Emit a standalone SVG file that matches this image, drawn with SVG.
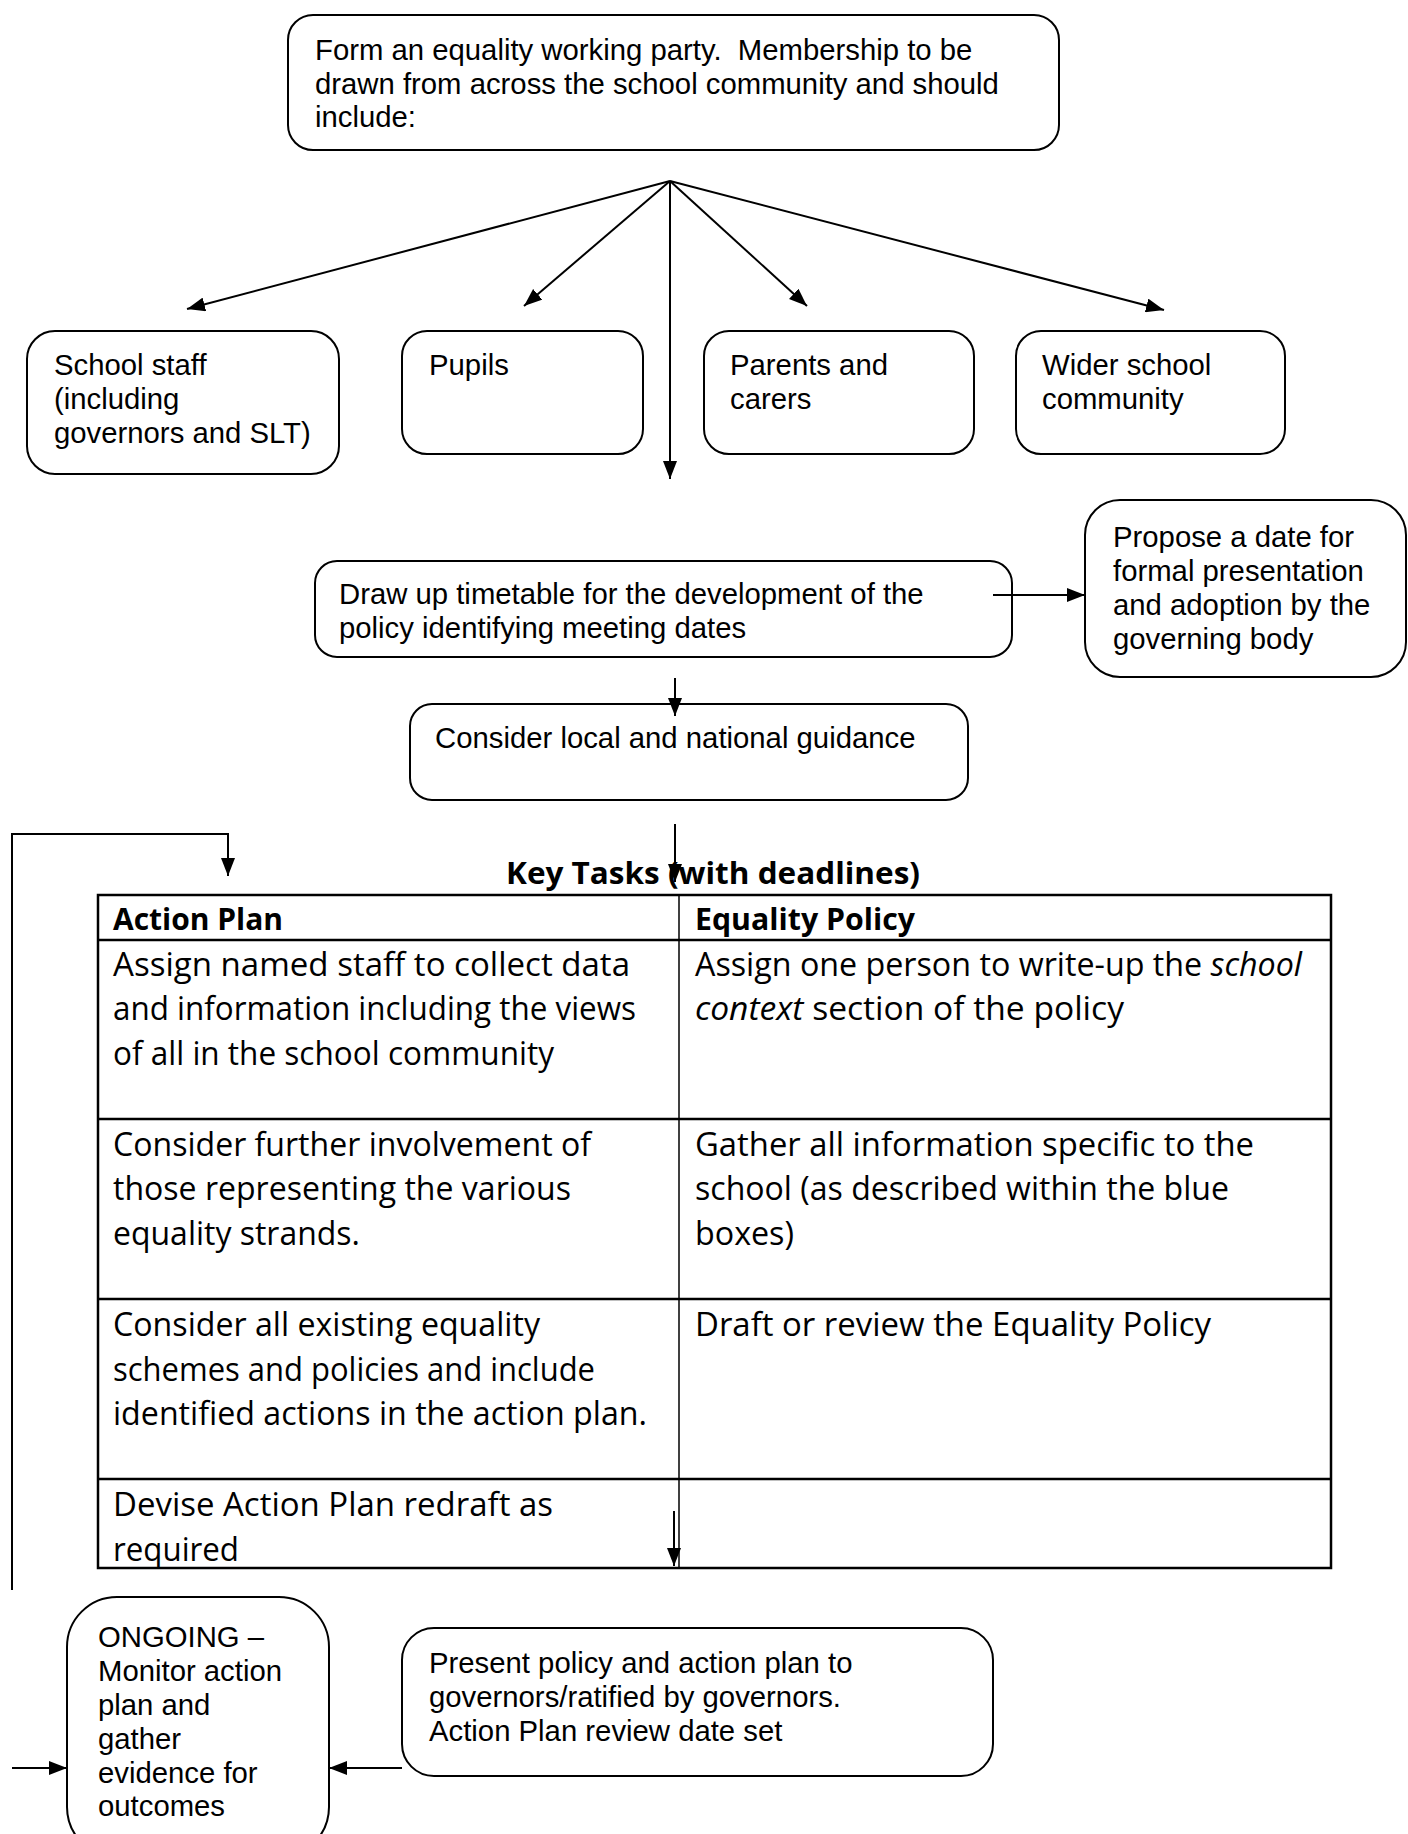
<svg xmlns="http://www.w3.org/2000/svg" width="1408" height="1834" viewBox="0 0 1408 1834">
<defs>
<marker id="ah" markerWidth="18" markerHeight="14" refX="18" refY="7" orient="auto" markerUnits="userSpaceOnUse"><path d="M0,0 L18,7 L0,14 z" fill="#000"/></marker>
<style>
.box{fill:#fff;stroke:#000;stroke-width:2}
.t{font-family:"Liberation Sans",Arial,sans-serif;font-size:29.3px;fill:#000}
.c{font-family:"Open Sans",sans-serif;font-size:32.5px;fill:#000}
.b{font-weight:bold;font-size:31px}
.ln{stroke:#000;stroke-width:2;fill:none}
.tl{stroke:#000;stroke-width:2.5;fill:none}
.tv{stroke:#000;stroke-width:1.5;fill:none}
</style>
</defs>
<rect width="1408" height="1834" fill="#fff"/>

<g id="n-form">
<rect class="box" x="288" y="15" width="771" height="135" rx="25"/>
<text class="t" x="315" y="60">Form an equality working party.&#160; Membership to be</text>
<text class="t" x="315" y="94">drawn from across the school community and should</text>
<text class="t" x="315" y="127">include:</text>
</g>

<g id="n-staff">
<rect class="box" x="27" y="331" width="312" height="143" rx="28"/>
<text class="t" x="54" y="375">School staff</text>
<text class="t" x="54" y="409">(including</text>
<text class="t" x="54" y="443">governors and SLT)</text>
</g>
<g id="n-pupils">
<rect class="box" x="402" y="331" width="241" height="123" rx="25"/>
<text class="t" x="429" y="375">Pupils</text>
</g>
<g id="n-parents">
<rect class="box" x="704" y="331" width="270" height="123" rx="25"/>
<text class="t" x="730" y="375">Parents and</text>
<text class="t" x="730" y="409">carers</text>
</g>
<g id="n-wider">
<rect class="box" x="1016" y="331" width="269" height="123" rx="25"/>
<text class="t" x="1042" y="375">Wider school</text>
<text class="t" x="1042" y="409">community</text>
</g>

<g id="n-timetable">
<rect class="box" x="315" y="561" width="697" height="96" rx="22"/>
<text class="t" x="339" y="604">Draw up timetable for the development of the</text>
<text class="t" x="339" y="638">policy identifying meeting dates</text>
</g>
<g id="n-propose">
<rect class="box" x="1085" y="500" width="321" height="177" rx="35"/>
<text class="t" x="1113" y="547">Propose a date for</text>
<text class="t" x="1113" y="581">formal presentation</text>
<text class="t" x="1113" y="615">and adoption by the</text>
<text class="t" x="1113" y="649">governing body</text>
</g>
<g id="n-consider">
<rect class="box" x="410" y="704" width="558" height="96" rx="22"/>
<text class="t" x="435" y="748">Consider local and national guidance</text>
</g>

<g id="n-keytasks">
<text class="c b" x="506" y="884" textLength="414" lengthAdjust="spacingAndGlyphs">Key Tasks (with deadlines)</text>
<rect x="98" y="895" width="1233" height="673" fill="none" stroke="#000" stroke-width="2.5"/>
<line class="tl" x1="98" y1="940" x2="1331" y2="940"/>
<line class="tl" x1="98" y1="1119" x2="1331" y2="1119"/>
<line class="tl" x1="98" y1="1299" x2="1331" y2="1299"/>
<line class="tl" x1="98" y1="1479" x2="1331" y2="1479"/>
<line class="tv" x1="679" y1="895" x2="679" y2="1568"/>
<text class="c b" x="113" y="930" textLength="170" lengthAdjust="spacingAndGlyphs">Action Plan</text>
<text class="c b" x="695" y="930" textLength="220" lengthAdjust="spacingAndGlyphs">Equality Policy</text>
<text class="c" x="113" y="976" textLength="517" lengthAdjust="spacingAndGlyphs">Assign named staff to collect data</text>
<text class="c" x="113" y="1020" textLength="523" lengthAdjust="spacingAndGlyphs">and information including the views</text>
<text class="c" x="113" y="1065" textLength="441" lengthAdjust="spacingAndGlyphs">of all in the school community</text>
<text class="c" x="695" y="976" textLength="607" lengthAdjust="spacingAndGlyphs">Assign one person to write-up the <tspan font-style="italic">school</tspan></text>
<text class="c" x="695" y="1020" textLength="429" lengthAdjust="spacingAndGlyphs"><tspan font-style="italic">context</tspan> section of the policy</text>
<text class="c" x="113" y="1156" textLength="478" lengthAdjust="spacingAndGlyphs">Consider further involvement of</text>
<text class="c" x="113" y="1200" textLength="458" lengthAdjust="spacingAndGlyphs">those representing the various</text>
<text class="c" x="113" y="1245" textLength="247" lengthAdjust="spacingAndGlyphs">equality strands.</text>
<text class="c" x="695" y="1156" textLength="559" lengthAdjust="spacingAndGlyphs">Gather all information specific to the</text>
<text class="c" x="695" y="1200" textLength="534" lengthAdjust="spacingAndGlyphs">school (as described within the blue</text>
<text class="c" x="695" y="1245" textLength="99" lengthAdjust="spacingAndGlyphs">boxes)</text>
<text class="c" x="113" y="1336" textLength="427" lengthAdjust="spacingAndGlyphs">Consider all existing equality</text>
<text class="c" x="113" y="1381" textLength="482" lengthAdjust="spacingAndGlyphs">schemes and policies and include</text>
<text class="c" x="113" y="1425" textLength="534" lengthAdjust="spacingAndGlyphs">identified actions in the action plan.</text>
<text class="c" x="695" y="1336" textLength="516" lengthAdjust="spacingAndGlyphs">Draft or review the Equality Policy</text>
<text class="c" x="113" y="1516" textLength="440" lengthAdjust="spacingAndGlyphs">Devise Action Plan redraft as</text>
<text class="c" x="113" y="1561" textLength="126" lengthAdjust="spacingAndGlyphs">required</text>
</g>

<g id="n-ongoing">
<rect class="box" x="67" y="1597" width="262" height="260" rx="50"/>
<text class="t" x="98" y="1647">ONGOING –</text>
<text class="t" x="98" y="1681">Monitor action</text>
<text class="t" x="98" y="1715">plan and</text>
<text class="t" x="98" y="1749">gather</text>
<text class="t" x="98" y="1783">evidence for</text>
<text class="t" x="98" y="1816">outcomes</text>
</g>
<g id="n-present">
<rect class="box" x="402" y="1628" width="591" height="148" rx="32"/>
<text class="t" x="429" y="1673">Present policy and action plan to</text>
<text class="t" x="429" y="1707">governors/ratified by governors.</text>
<text class="t" x="429" y="1741">Action Plan review date set</text>
</g>

<g id="connectors">
<line class="ln" x1="670" y1="181" x2="187" y2="309" marker-end="url(#ah)"/>
<line class="ln" x1="670" y1="181" x2="524" y2="306" marker-end="url(#ah)"/>
<line class="ln" x1="670" y1="181" x2="807" y2="306" marker-end="url(#ah)"/>
<line class="ln" x1="670" y1="181" x2="1164" y2="310" marker-end="url(#ah)"/>
<line class="ln" x1="670" y1="181" x2="670" y2="479" marker-end="url(#ah)"/>
<line class="ln" x1="993" y1="595" x2="1085" y2="595" marker-end="url(#ah)"/>
<line class="ln" x1="675" y1="678" x2="675" y2="716" marker-end="url(#ah)"/>
<line class="ln" x1="675" y1="824" x2="675" y2="882" marker-end="url(#ah)"/>
<polyline class="ln" points="12,1590 12,834 228,834 228,876" marker-end="url(#ah)"/>
<line class="ln" x1="674" y1="1511" x2="674" y2="1566" marker-end="url(#ah)"/>
<line class="ln" x1="12" y1="1768" x2="67" y2="1768" marker-end="url(#ah)"/>
<line class="ln" x1="402" y1="1768" x2="329" y2="1768" marker-end="url(#ah)"/>
</g>
</svg>
